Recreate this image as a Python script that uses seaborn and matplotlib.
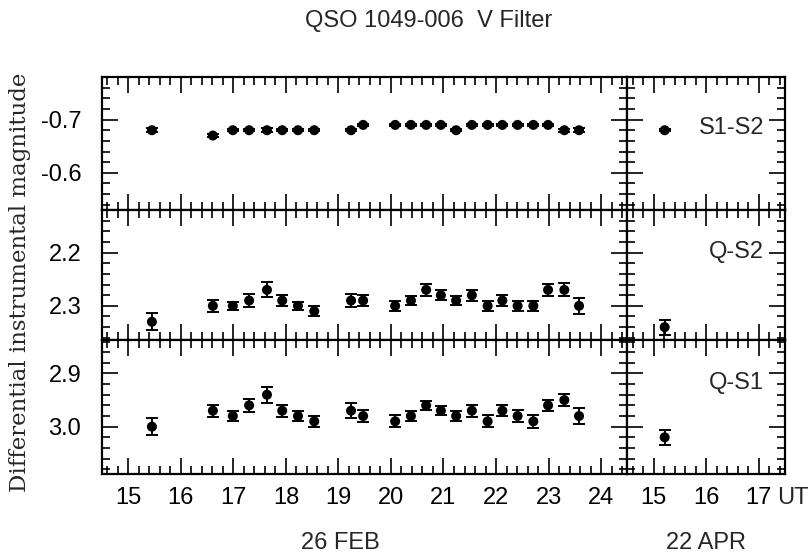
import numpy as np
import matplotlib
matplotlib.use('Agg')
import matplotlib.pyplot as plt
import pandas as pd
import seaborn as sns
from matplotlib.ticker import MultipleLocator, NullFormatter

# UT of each frame, 26 FEB night and 22 APR night
feb_ut = [15.45, 16.61, 16.99, 17.30, 17.64, 17.93, 18.23, 18.54, 19.24, 19.47,
          20.08, 20.38, 20.67, 20.95, 21.24, 21.54, 21.84, 22.12, 22.41, 22.71,
          22.99, 23.30, 23.58]
apr_ut = [15.21]

# S1-S2
s1s2_feb = [-0.68, -0.67, -0.68, -0.68, -0.68, -0.68, -0.68, -0.68, -0.68, -0.69,
            -0.69, -0.69, -0.69, -0.69, -0.68, -0.69, -0.69, -0.69, -0.69, -0.69,
            -0.69, -0.68, -0.68]
s1s2_feb_err = [0.004, 0.002, 0.002, 0.002, 0.004, 0.002, 0.002, 0.002, 0.002, 0.002,
                0.002, 0.002, 0.002, 0.002, 0.002, 0.002, 0.002, 0.002, 0.002, 0.002,
                0.002, 0.003, 0.004]
s1s2_apr = [-0.68]
s1s2_apr_err = [0.002]

# Q-S2
qs2_feb = [2.33, 2.30, 2.30, 2.29, 2.27, 2.29, 2.30, 2.31, 2.29, 2.29,
           2.30, 2.29, 2.27, 2.28, 2.29, 2.28, 2.30, 2.29, 2.30, 2.30,
           2.27, 2.27, 2.30]
qs2_feb_err = [0.016, 0.011, 0.008, 0.012, 0.014, 0.011, 0.008, 0.010, 0.012, 0.010,
               0.010, 0.008, 0.011, 0.009, 0.009, 0.010, 0.010, 0.010, 0.010, 0.010,
               0.011, 0.012, 0.015]
qs2_apr = [2.34]
qs2_apr_err = [0.014]

# Q-S1
qs1_feb = [3.00, 2.97, 2.98, 2.96, 2.94, 2.97, 2.98, 2.99, 2.97, 2.98,
           2.99, 2.98, 2.96, 2.97, 2.98, 2.97, 2.99, 2.97, 2.98, 2.99,
           2.96, 2.95, 2.98]
qs1_feb_err = [0.016, 0.011, 0.010, 0.012, 0.015, 0.011, 0.009, 0.010, 0.014, 0.011,
               0.011, 0.009, 0.008, 0.009, 0.009, 0.011, 0.011, 0.010, 0.011, 0.012,
               0.011, 0.012, 0.015]
qs1_apr = [3.02]
qs1_apr_err = [0.014]

panel_names = ['S1-S2', 'Q-S2', 'Q-S1']
ylims = [(-0.53, -0.78), (2.365, 2.12), (3.088, 2.838)]
label_y = [0.617, 0.68, 0.678]

sns.set_theme(style='ticks')
plt.rcParams['font.family'] = ['Liberation Sans', 'DejaVu Sans']
plt.rcParams['axes.unicode_minus'] = False

feb = [(s1s2_feb, s1s2_feb_err), (qs2_feb, qs2_feb_err), (qs1_feb, qs1_feb_err)]
apr = [(s1s2_apr, s1s2_apr_err), (qs2_apr, qs2_apr_err), (qs1_apr, qs1_apr_err)]

fig, axes = plt.subplots(3, 2, figsize=(8.12, 5.54), dpi=100,
                         gridspec_kw={'width_ratios': [10, 3],
                                      'height_ratios': [0.25, 0.245, 0.25]})
fig.subplots_adjust(left=102/812, right=785/812, top=1-77/554, bottom=1-473.5/554,
                    wspace=0, hspace=0)

for row in range(3):
    for col in range(2):
        ax = axes[row, col]
        ut = feb_ut if col == 0 else apr_ut
        vals, errs = feb[row] if col == 0 else apr[row]
        df = pd.DataFrame({'UT': ut, 'mag': vals, 'err': errs})
        ax.errorbar(df['UT'], df['mag'], yerr=df['err'], fmt='none', ecolor='black',
                    elinewidth=1.4, capsize=4, capthick=1.4, zorder=2)
        sns.scatterplot(data=df, x='UT', y='mag', ax=ax, color='black', s=52,
                        edgecolor='none', zorder=3, legend=False)
        if col == 0:
            ax.set_xlim(14.5, 24.5)
        else:
            ax.set_xlim(14.5, 17.5)
        ax.set_ylim(*ylims[row])
        ax.xaxis.set_major_locator(MultipleLocator(1))
        ax.xaxis.set_minor_locator(MultipleLocator(0.2))
        ax.yaxis.set_major_locator(MultipleLocator(0.1))
        ax.yaxis.set_minor_locator(MultipleLocator(0.02))
        ax.tick_params(which='both', direction='in', top=True, right=True,
                       colors='black', labelsize=17)
        ax.tick_params(which='major', length=11.5, width=1.2)
        ax.tick_params(which='minor', length=5.8, width=1.2)
        ax.tick_params(axis='y', pad=15)
        ax.tick_params(axis='x', pad=10)
        for sp in ax.spines.values():
            sp.set_linewidth(1.6)
            sp.set_color('black')
        ax.set_xlabel('')
        ax.set_ylabel('')
        if row < 2:
            ax.xaxis.set_major_formatter(NullFormatter())
        if col == 1:
            ax.yaxis.set_major_formatter(NullFormatter())
            ax.text(0.867, label_y[row], panel_names[row], transform=ax.transAxes,
                    ha='right', va='center', fontsize=17)
        else:
            ax.yaxis.set_major_formatter(matplotlib.ticker.FormatStrFormatter('%.1f'))

fig.text(429/812, 1-21/554, 'QSO 1049-006  V Filter', ha='center', va='center',
         fontsize=17)
fig.text(20/812, 1-282/554, 'Differential instrumental magnitude', rotation=90,
         ha='center', va='center', fontsize=16.5, family=['DejaVu Serif'])
fig.text(340/812, 1-543/554, '26 FEB', ha='center', va='center', fontsize=17)
fig.text(706/812, 1-543/554, '22 APR', ha='center', va='center', fontsize=17)
fig.text(777/812, 1-498/554, 'UT', ha='left', va='center', fontsize=17)

fig.savefig('out.png', dpi=100, facecolor='white')
